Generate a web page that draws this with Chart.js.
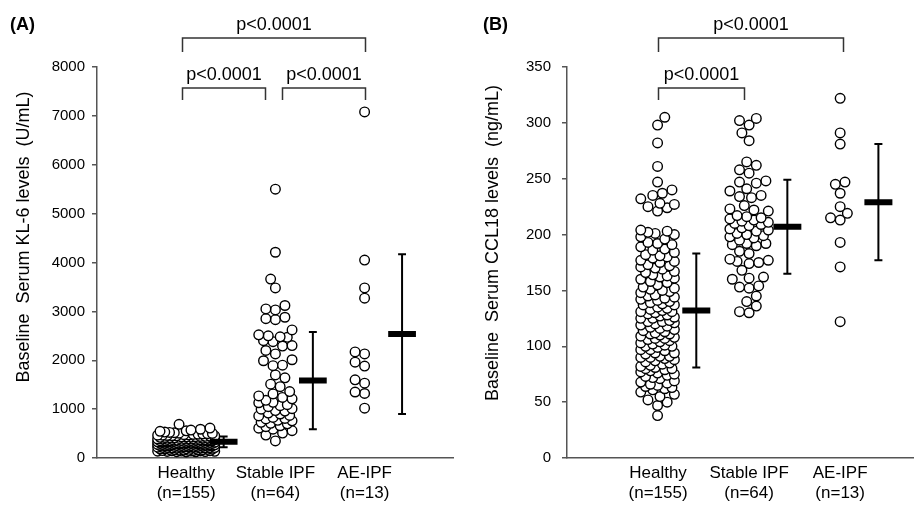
<!DOCTYPE html>
<html><head><meta charset="utf-8">
<script src="https://cdn.jsdelivr.net/npm/chart.js@4.4.1/dist/chart.umd.min.js"></script>
<style>
html,body{margin:0;padding:0;background:#fff;}
#wrap{position:relative;width:921px;height:509px;overflow:hidden;background:#fff;}
#cA{position:absolute;left:0;top:0;}
#cB{position:absolute;left:460px;top:0;}
</style></head><body>
<div id="wrap"><canvas id="cA" width="460" height="509"></canvas><canvas id="cB" width="461" height="509"></canvas></div>
<script>
// ---------- data ----------
const groups = ['Healthy', 'Stable IPF', 'AE-IPF'];
const groupN = ['(n=155)', '(n=64)', '(n=13)'];

const kl6Healthy = [690, 612, 588, 571, 556, 546, 531, 524, 517, 508, 502,
  497, 493, 486, 482, 478, 471, 468, 466, 460, 457, 453, 451,
  448, 444, 441, 437, 433, 430, 428, 424, 419, 415, 413, 410, 406, 404, 402, 400,
  398, 396, 391, 389, 388, 383, 380, 378, 376, 371, 369, 366, 364, 362, 360, 358, 355, 353, 352, 350,
  349, 347, 344, 342, 341, 339, 336, 333, 331, 330, 327, 325, 322, 320, 318, 316, 314, 312, 309, 307, 305, 303, 302, 300,
  299, 296, 295, 292, 289, 286, 285, 283, 280, 278, 276, 274, 271, 270, 267, 265, 263, 260, 258, 257, 255, 253, 251, 250,
  248, 246, 242, 240, 237, 236, 233, 229, 226, 224, 221, 219, 215, 213, 211, 208, 206, 204, 202, 200,
  197, 195, 190, 188, 186, 181, 178, 175, 172, 170, 166, 163, 160, 157, 154, 151,
  149, 147, 145, 142, 141, 139, 136, 134, 132, 130, 128, 125];
const kl6Stable = [5500, 4210, 3660, 3480, 3120, 3050, 3030, 2880, 2850, 2830, 2620, 2520, 2500, 2480, 2470,
  2400, 2380, 2300, 2290, 2200, 2130, 2010, 1990, 1900, 1890,
  1700, 1640, 1510, 1460, 1360, 1310, 1270, 1240, 1210, 1180, 1140, 1130, 1090, 1070, 1050,
  1010, 1000, 970, 960, 920, 900, 870, 860, 830, 810, 800, 770, 760, 730, 710,
  700, 660, 640, 610, 590, 560, 510, 470, 350];
const kl6AE = [7080, 4050, 3480, 3270, 2170, 2130, 1960, 1880, 1600, 1530, 1350, 1320, 1020];
const kl6Mean = [330, 1585, 2535];
const kl6SD = [110, 995, 1635];
const kl6Ticks = [0, 1000, 2000, 3000, 4000, 5000, 6000, 7000, 8000];

const ccl18Healthy = [305, 298, 282, 261, 247, 240, 237, 235, 232, 228, 227, 225, 224, 221,
  204, 203, 202, 201, 200,
  198, 196, 193, 192, 191,
  189, 187, 186, 184, 182, 181, 180,
  179, 177, 176, 175, 173, 172, 171, 170,
  169, 167, 166, 164, 163, 162, 161, 160,
  158, 157, 155, 153, 152, 151, 150,
  149, 148, 146, 145, 144, 143, 142, 141, 140,
  139, 138, 137, 137, 135, 134, 133, 132, 131, 131, 130,
  129, 128, 127, 126, 125, 125, 123, 122, 122, 121, 120,
  119, 118, 117, 116, 115, 114, 113, 112, 111, 111, 110,
  109, 108, 107, 107, 106, 105, 104, 103, 102, 101, 100, 100,
  99, 97, 97, 96, 94, 94, 93, 91, 91, 90, 90,
  89, 88, 87, 86, 85, 84, 83, 82, 81, 80, 80,
  79, 78, 77, 76, 75, 74, 73, 72, 71,
  69, 68, 67, 66, 65, 64, 63, 62, 61,
  59, 57, 55, 52, 50,
  47, 38];
const ccl18Stable = [304, 302, 298, 291, 284, 265, 262, 258, 255, 248, 247, 246, 241, 239, 235, 234, 233, 226, 223, 222, 221, 217, 216, 215, 214,
  213, 212, 211, 210, 209, 208, 206, 205, 204, 203, 201, 200, 199, 198, 197, 195,
  192, 192, 191, 190, 185, 183, 178, 177, 176, 175, 174, 168, 162, 161, 160, 154, 153, 152, 145, 140, 136, 131, 130];
const ccl18AE = [322, 291, 281, 247, 245, 237, 225, 219, 215, 213, 193, 171, 122];
const ccl18Mean = [132, 207, 229];
const ccl18SD = [51, 42, 52];
const ccl18Ticks = [0, 50, 100, 150, 200, 250, 300, 350];

const pText = 'p<0.0001';

// ---------- helpers ----------
function swarm(vals, center, pxX, pxY, maxCols) {
  const dx = 9.6, dmin = 9.4;
  const half = (maxCols - 1) / 2 * dx;
  const cands = [];
  for (let o = -half; o <= half + 1e-6; o += dx / 4) cands.push(o);
  cands.sort((a, b) => Math.abs(a) - Math.abs(b) || a - b);
  const placed = [];
  vals.slice().sort((a, b) => a - b).forEach(v => {
    const py = v * pxY;
    let best = 0, bestD = -1;
    for (const o of cands) {
      let md = Infinity;
      for (const p of placed) { const d = Math.hypot(p.px - o, p.py - py); if (d < md) md = d; }
      if (md >= dmin) { best = o; bestD = md; break; }
      if (md > bestD) { bestD = md; best = o; }
    }
    placed.push({ px: best, py: py, v: v });
  });
  return placed.map(p => ({ x: center + p.px / pxX, y: p.v }));
}

function makePanel(id, cfg) {
  const pxX = cfg.plotW / cfg.xMax;
  const pxY = 391 / cfg.yMax;
  let dots = [];
  cfg.values.forEach((vals, i) => { dots = dots.concat(swarm(vals, i + 1, pxX, pxY, cfg.maxCols[i])); });
  const eOff = 0.42, cap = 4 / pxX, bw = 14 / pxX;
  const errs = [], bars = [];
  cfg.means.forEach((m, i) => {
    const e = i + 1 + eOff, s = cfg.sds[i];
    errs.push({ x: e, y: m - s }, { x: e, y: m + s }, { x: e, y: null },
      { x: e - cap, y: m + s }, { x: e + cap, y: m + s }, { x: e, y: null },
      { x: e - cap, y: m - s }, { x: e + cap, y: m - s }, { x: e, y: null });
    bars.push({ x: e - bw, y: m }, { x: e + bw, y: m }, { x: e, y: null });
  });

  const annot = {
    id: 'annot',
    afterDraw(chart) {
      const ctx = chart.ctx, xs = chart.scales.x, top = chart.chartArea.top;
      ctx.save();
      ctx.fillStyle = '#000';
      ctx.font = 'bold 18px "Liberation Sans", Arial, sans-serif';
      ctx.textAlign = 'left'; ctx.textBaseline = 'middle';
      ctx.fillText(cfg.label, cfg.labelX, 25);
      // y title
      ctx.save();
      ctx.translate(cfg.titleX, cfg.titleY);
      ctx.rotate(-Math.PI / 2);
      ctx.font = '18px "Liberation Sans", Arial, sans-serif';
      ctx.textAlign = 'center'; ctx.textBaseline = 'middle';
      ctx.fillText(cfg.title, 0, 0);
      ctx.restore();
      // brackets
      ctx.strokeStyle = '#333'; ctx.lineWidth = 1.5;
      ctx.font = '18px "Liberation Sans", Arial, sans-serif';
      ctx.textAlign = 'center'; ctx.textBaseline = 'middle';
      cfg.brackets.forEach(b => {
        const x1 = Math.round(xs.getPixelForValue(b.x1)) + 0.5, x2 = Math.round(xs.getPixelForValue(b.x2)) + 0.5;
        const yh = b.level === 'top' ? top - 29 : top + 21;
        const ye = yh + (b.level === 'top' ? 14 : 12);
        ctx.beginPath();
        ctx.moveTo(x1, ye); ctx.lineTo(x1, yh); ctx.lineTo(x2, yh); ctx.lineTo(x2, ye);
        ctx.stroke();
        ctx.fillText(b.text, (x1 + x2) / 2, yh - 13);
      });
      ctx.restore();
    }
  };

  return new Chart(document.getElementById(id), {
    type: 'scatter',
    data: {
      datasets: [
        { data: dots, pointRadius: 4.8, pointBorderWidth: 1.4, pointBackgroundColor: '#fff', pointBorderColor: '#000', order: 3 },
        { data: errs, showLine: true, borderColor: '#000', borderWidth: 2, pointRadius: 0, spanGaps: false, order: 2, borderCapStyle: 'butt' },
        { data: bars, showLine: true, borderColor: '#000', borderWidth: 6, pointRadius: 0, spanGaps: false, order: 1, borderCapStyle: 'butt' }
      ]
    },
    options: {
      responsive: false, animation: false, devicePixelRatio: 1,
      layout: { padding: { left: 0, top: 67, right: cfg.padRight, bottom: 0 } },
      plugins: { legend: { display: false }, tooltip: { enabled: false } },
      scales: {
        x: {
          type: 'linear', min: 0, max: cfg.xMax,
          afterFit: s => { s.height = 51; },
          afterBuildTicks: s => { s.ticks = groups.map((g, i) => ({ value: i + 1 })); },
          grid: { display: false },
          border: { display: true, color: '#555', width: 1.5 },
          ticks: {
            autoSkip: false, maxRotation: 0, padding: -3, color: '#000',
            font: { family: '"Liberation Sans", Arial, sans-serif', size: 17, lineHeight: 1.2 },
            callback: (v) => { const i = Math.round(v) - 1; return [groups[i], groupN[i]]; }
          }
        },
        y: {
          type: 'linear', min: 0, max: cfg.yMax,
          afterFit: s => { s.width = cfg.yAxisW; },
          afterBuildTicks: s => { s.ticks = cfg.ticks.map(v => ({ value: v })); },
          grid: { display: true, drawOnChartArea: false, drawTicks: true, tickLength: 5, color: '#555', lineWidth: 1.5 },
          border: { display: true, color: '#555', width: 1.5 },
          ticks: { padding: cfg.tickPad, color: '#000', font: { family: '"Liberation Sans", Arial, sans-serif', size: 15 },
            callback: (v) => String(v) }
        }
      }
    },
    plugins: [annot]
  });
}

makePanel('cA', {
  values: [kl6Healthy, kl6Stable, kl6AE], means: kl6Mean, sds: kl6SD, ticks: kl6Ticks,
  yMax: 8000, xMax: 4, plotW: 360, padRight: 3, yAxisW: 97, tickPad: 7,
  maxCols: [7, 4.5, 3], label: '(A)', labelX: 10,
  title: 'Baseline  Serum KL-6 levels  (U/mL)', titleX: 24, titleY: 237,
  brackets: [
    { x1: 0.95, x2: 3.0, level: 'top', text: pText },
    { x1: 0.95, x2: 1.88, level: 'low', text: pText },
    { x1: 2.07, x2: 3.0, level: 'low', text: pText }
  ]
});
makePanel('cB', {
  values: [ccl18Healthy, ccl18Stable, ccl18AE], means: ccl18Mean, sds: ccl18SD, ticks: ccl18Ticks,
  yMax: 350, xMax: 3.8, plotW: 346, padRight: 8, yAxisW: 107, tickPad: 11,
  maxCols: [4.6, 5, 3], label: '(B)', labelX: 23,
  title: 'Baseline  Serum CCL18 levels  (ng/mL)', titleX: 33, titleY: 243,
  brackets: [
    { x1: 1.0, x2: 3.03, level: 'top', text: pText },
    { x1: 1.0, x2: 1.94, level: 'low', text: pText }
  ]
});
</script>
</body></html>
